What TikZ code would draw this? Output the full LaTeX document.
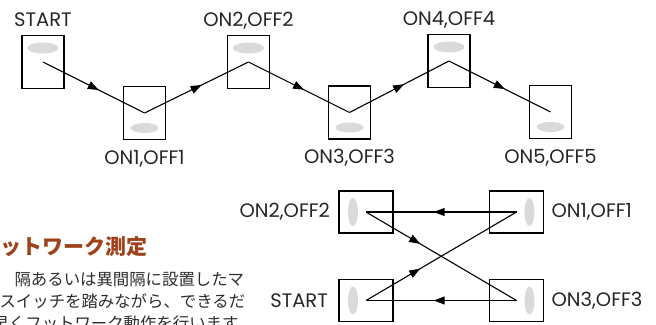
\documentclass[tikz,border=0pt]{standalone}
\usepackage{fontspec}
\setmainfont{Poppins}
\newfontfamily\jpfont{Noto Sans CJK JP}
\usetikzlibrary{positioning, arrows.meta, decorations.markings}
\definecolor{footgray}{RGB}{216,219,216}
\definecolor{headbrown}{RGB}{158,66,28}
\definecolor{bodygray}{RGB}{45,45,45}

\begin{document}
\begin{tikzpicture}[x=1pt, y=-1pt, line width=1.1pt,
  pad/.style={draw, fill=none, shape=rectangle, minimum width=42pt, minimum height=53pt, inner sep=0pt},
  widepad/.style={pad, minimum width=54pt, minimum height=42pt},
  foot/.style={fill=footgray, draw=none},
  lbl/.style={inner sep=0pt, font=\fontsize{19.5}{19.5}\selectfont, text=black!85},
  midarrow/.style={postaction={decorate, decoration={markings, mark=at position #1 with {\arrow{Triangle[length=11pt, width=8pt]}}}}},
  midarrow/.default=0.55,
  ]
  \useasboundingbox (0,0) rectangle (656,324);

  % top row: zig-zag course
  \node[pad] (start) at (43,62) {};
  \node[pad] (on1) at (144.5,113) {};
  \node[pad] (on2) at (248.5,62) {};
  \node[pad] (on3) at (349.5,112.5) {};
  \node[pad] (on4) at (449,61) {};
  \node[pad] (on5) at (550.5,112) {};
  \foreach \p in {start, on2, on4}
    \fill[foot] ([yshift=14pt]\p.center) ellipse [x radius=15.5, y radius=5.5];
  \foreach \p in {on1, on3, on5}
    \fill[foot] ([yshift=-15pt]\p.center) ellipse [x radius=14, y radius=5];

  \node[lbl, anchor=base] (startlbl) at ([yshift=8.5pt]start.north) {START};
  \node[lbl, anchor=base] (on2lbl) at ([yshift=8.5pt]on2.north) {ON2,OFF2};
  \node[lbl, anchor=base] (on4lbl) at ([yshift=8.5pt]on4.north) {ON4,OFF4};
  \node[lbl, anchor=base] (on1lbl) at ([yshift=-24pt]on1.south) {ON1,OFF1};
  \node[lbl, anchor=base] (on3lbl) at ([yshift=-24pt]on3.south) {ON3,OFF3};
  \node[lbl, anchor=base] (on5lbl) at ([yshift=-24pt]on5.south) {ON5,OFF5};

  \path
    (start.center) edge[midarrow] (on1.center)
    (on1.center) edge[midarrow] (on2.center)
    (on2.center) edge[midarrow] (on3.center)
    (on3.center) edge[midarrow] (on4.center)
    (on4.center) edge[midarrow] (on5.center);

  % bottom right: cross course
  \node[widepad] (xon2) at (366,212) {};
  \node[widepad] (xon1) at (516.5,212) {};
  \node[widepad] (xstart) at (366,300.5) {};
  \node[widepad] (xon3) at (516.5,300.5) {};
  \foreach \p in {xon2, xstart}
    \fill[foot] ([xshift=-13pt]\p.center) ellipse [x radius=5, y radius=14];
  \foreach \p in {xon1, xon3}
    \fill[foot] ([xshift=13pt]\p.center) ellipse [x radius=5, y radius=14];

  \node[lbl, anchor=east] (xon2lbl) at ([xshift=-8pt]xon2.west) {ON2,OFF2};
  \node[lbl, anchor=east] (xstartlbl) at ([xshift=-10pt]xstart.west) {START};
  \node[lbl, anchor=west] (xon1lbl) at ([xshift=7pt]xon1.east) {ON1,OFF1};
  \node[lbl, anchor=west] (xon3lbl) at ([xshift=7pt]xon3.east) {ON3,OFF3};

  \path
    (xstart.center) edge[midarrow=0.36] (xon1.center)
    (xon1.center) edge[midarrow] (xon2.center)
    (xon2.center) edge[midarrow=0.36] (xon3.center)
    (xon3.center) edge[midarrow] (xstart.center);

  % cut-off text block at the lower left
  \begin{scope}
    \clip (0,0) rectangle (656,324);
    \node[anchor=base west, inner sep=0pt, text=headbrown,
      font=\jpfont\bfseries\fontsize{21}{21}\selectfont] (head) at (0,254) {ットワーク測定};
    \node[anchor=base west, inner sep=0pt, text=bodygray,
      font=\jpfont\fontsize{16.4}{16.4}\selectfont] (line1) at (14,285) {隔あるいは異間隔に設置したマ};
    \node[anchor=base west, inner sep=0pt, text=bodygray,
      font=\jpfont\fontsize{16.4}{16.4}\selectfont] (line2) at (-1,307) {スイッチを踏みながら、できるだ};
    \node[anchor=base west, inner sep=0pt, text=bodygray,
      font=\jpfont\fontsize{16.4}{16.4}\selectfont] (line3) at (-8,329) {早くフットワーク動作を行います。};
  \end{scope}
\end{tikzpicture}
\end{document}
